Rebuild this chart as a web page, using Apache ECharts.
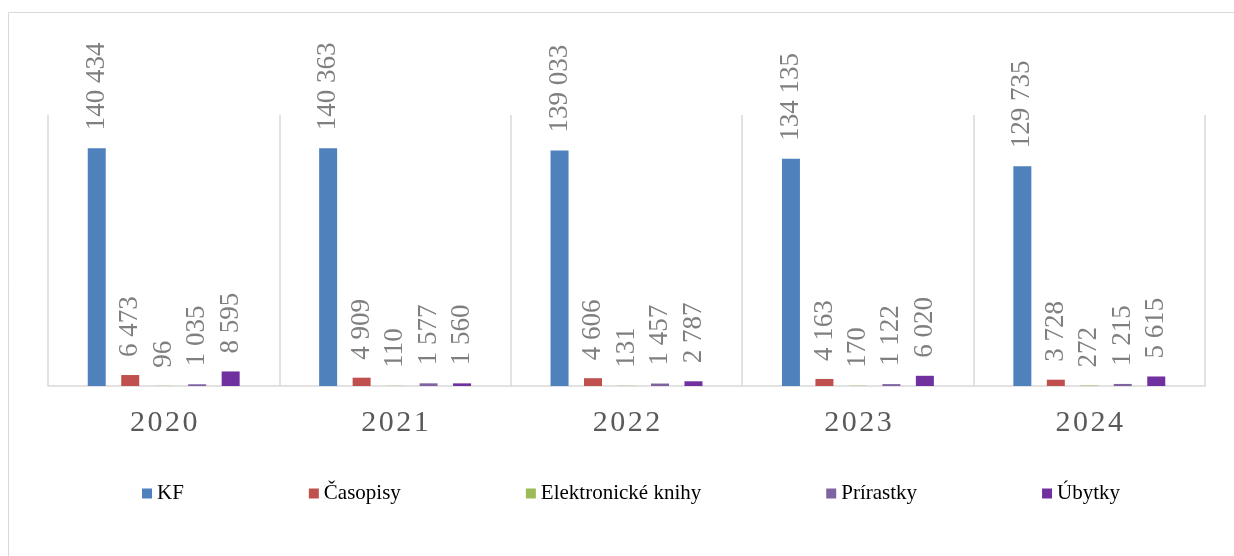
<!DOCTYPE html>
<html>
<head>
<meta charset="utf-8">
<script src="https://cdn.jsdelivr.net/npm/echarts@6/dist/echarts.min.js"></script>
<style>
html,body{margin:0;padding:0;background:#fff;}
#c{width:1234px;height:556px;}
</style>
</head>
<body>
<div id="c"></div>
<script>
var categories = ['2020', '2021', '2022', '2023', '2024'];
var seriesNames = ['KF', 'Časopisy', 'Elektronické knihy', 'Prírastky', 'Úbytky'];
var kf = [140434, 140363, 139033, 134135, 129735];
var casopisy = [6473, 4909, 4606, 4163, 3728];
var eknihy = [96, 110, 131, 170, 272];
var prirastky = [1035, 1577, 1457, 1122, 1215];
var ubytky = [8595, 1560, 2787, 6020, 5615];
var colors = ['#4F81BD', '#C0504D', '#9BBB59', '#8064A2', '#7030A0'];

var dataSets = [kf, casopisy, eknihy, prirastky, ubytky];
var fontFam = '"Liberation Serif", "Times New Roman", serif';

function fmt(v) {
  return String(v).replace(/\B(?=(\d{3})+(?!\d))/g, ' ');
}

var series = dataSets.map(function (d, i) {
  return {
    name: seriesNames[i],
    type: 'bar',
    data: d,
    barWidth: 18,
    barGap: '86%',
    itemStyle: { color: colors[i] },
    label: {
      show: true,
      position: 'top',
      rotate: 90,
      align: 'left',
      verticalAlign: 'middle',
      distance: 18,
      color: '#7f7f7f',
      fontFamily: fontFam,
      fontSize: 27,
      formatter: function (p) { return fmt(p.value); }
    }
  };
});

var chart = echarts.init(document.getElementById('c'));
chart.setOption({
  animation: false,
  backgroundColor: '#fff',
  color: colors,
  graphic: [{
    type: 'rect',
    shape: { x: 8.5, y: 12.5, width: 1260, height: 600 },
    style: { fill: 'none', stroke: '#d9d9d9', lineWidth: 1 },
    silent: true
  }],
  grid: { left: 48, right: 29, top: 115, bottom: 170 },
  legend: {
    left: 137,
    top: 478,
    itemGap: 125,
    itemWidth: 10,
    itemHeight: 10,
    icon: 'rect',
    textStyle: { color: '#000', fontFamily: fontFam, fontSize: 21 },
    data: seriesNames
  },
  xAxis: {
    type: 'category',
    data: categories,
    axisLine: { lineStyle: { color: '#d9d9d9', width: 1.5 } },
    axisTick: { show: false },
    splitLine: { show: true, lineStyle: { color: '#d9d9d9', width: 1.5 } },
    axisLabel: {
      color: '#595959',
      fontFamily: fontFam,
      fontSize: 30,
      margin: 22,
      formatter: function (v) { return v.split('').join('\u200A'); }
    }
  },
  yAxis: {
    type: 'value',
    min: 0,
    max: 160000,
    interval: 20000,
    axisLine: { show: false },
    axisTick: { show: false },
    axisLabel: { show: false },
    splitLine: { show: false }
  },
  series: series
});
</script>
</body>
</html>
